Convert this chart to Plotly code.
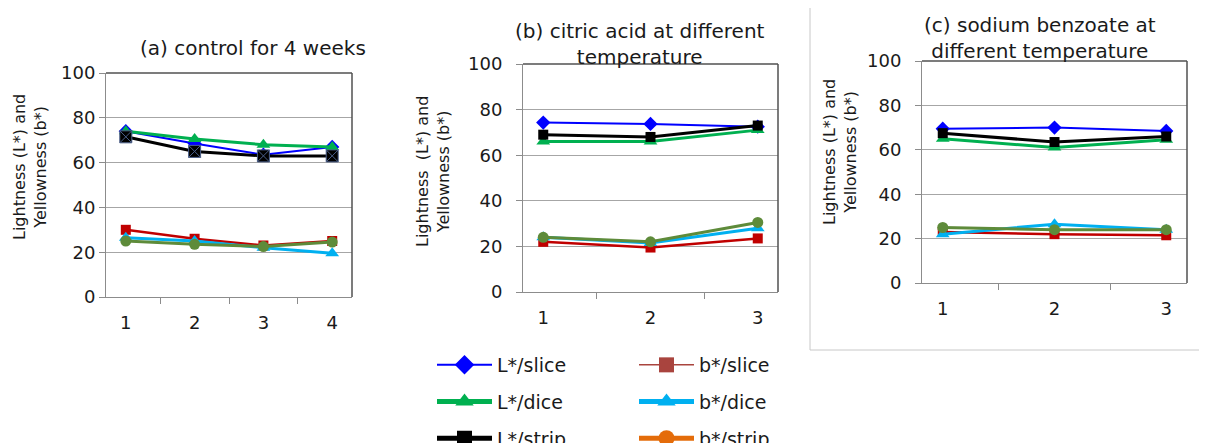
import plotly.graph_objects as go

# ---------------- data ----------------
weeks_a = ["1", "2", "3", "4"]
temps_bc = ["1", "2", "3"]

a_L_slice = [74, 68.5, 63.5, 67]
a_L_dice = [74, 70.5, 68, 67]
a_L_strip = [71.5, 65, 63, 63]
a_b_slice = [30, 26, 23, 25]
a_b_dice = [26.5, 25, 22, 19.5]
a_b_strip = [25, 23.5, 22.5, 24.5]

b_L_slice = [74.3, 73.7, 72.5]
b_L_dice = [66, 66, 71]
b_L_strip = [69, 68, 73]
b_b_slice = [22, 19.5, 23.5]
b_b_dice = [24, 21.5, 28]
b_b_strip = [24, 22, 30.5]

c_L_slice = [69.5, 70, 68.5]
c_L_dice = [65, 61, 64.5]
c_L_strip = [67.5, 63.5, 66]
c_b_slice = [23, 22, 21.5]
c_b_dice = [22, 26.5, 24]
c_b_strip = [25, 24, 24]

series_names = ["L*/slice", "b*/slice", "L*/dice", "b*/dice", "L*/strip", "b*/strip"]
titles = ["(a) control for 4 weeks",
          "(b) citric acid at different<br>temperature",
          "(c) sodium benzoate at<br>different temperature"]
ytitles = ["Lightness (L*) and<br>Yellowness (b*)",
           "Lightness  (L*) and<br>Yellowness (b*)",
           "Lightness (L*) and<br>Yellowness (b*)"]

# ---------------- styles ----------------
OFF = 8                     # default page body margin
W, H = 1207 - OFF, 443 - OFF
FONT = "DejaVu Sans"
TXT = "#1a1a1a"

style = {
    "L*/slice": dict(color="#0000FF", width=2, symbol="diamond", size=11),
    "L*/dice": dict(color="#00B050", width=3, symbol="triangle-up", size=12),
    "L*/strip": dict(color="#000000", width=3, symbol="square", size=10),
    "b*/slice": dict(color="#C00000", width=2.5, symbol="square", size=10),
    "b*/dice": dict(color="#00B0F0", width=3, symbol="triangle-up", size=12),
    "b*/strip": dict(color="#5E8B3A", width=3, symbol="circle", size=11),
}
legend_style = {
    "L*/slice": dict(color="#0000FF", width=2, symbol="diamond", size=15),
    "b*/slice": dict(color="#A9443E", width=1.5, symbol="square", size=15),
    "L*/dice": dict(color="#00B050", width=5, symbol="triangle-up", size=16),
    "b*/dice": dict(color="#00B0F0", width=5, symbol="triangle-up", size=16),
    "L*/strip": dict(color="#000000", width=5, symbol="square", size=15),
    "b*/strip": dict(color="#E46C0A", width=5, symbol="circle", size=16),
}

panels = [
    (weeks_a, {"L*/slice": a_L_slice, "L*/dice": a_L_dice, "L*/strip": a_L_strip,
               "b*/slice": a_b_slice, "b*/dice": a_b_dice, "b*/strip": a_b_strip}),
    (temps_bc, {"L*/slice": b_L_slice, "L*/dice": b_L_dice, "L*/strip": b_L_strip,
                "b*/slice": b_b_slice, "b*/dice": b_b_dice, "b*/strip": b_b_strip}),
    (temps_bc, {"L*/slice": c_L_slice, "L*/dice": c_L_dice, "L*/strip": c_L_strip,
                "b*/slice": c_b_slice, "b*/dice": c_b_dice, "b*/strip": c_b_strip}),
]

# plot-area pixel boxes in the page (left, right, top, bottom)
boxes = [(106, 352, 73, 297), (523, 778, 64, 292), (922, 1187, 61, 283)]
title_pos = [(253, 48), (640, 44), (1040, 38)]
ytitle_pos = [(30, 167), (433, 172), (840, 152)]
ylabel_standoff = [0, 10, 10]

def px(x):
    return (x - OFF) / W

def py(y):
    return 1 - (y - OFF) / H

fig = go.Figure()
draw_order = ["L*/slice", "L*/dice", "L*/strip", "b*/slice", "b*/dice", "b*/strip"]

for i, (cats, data) in enumerate(panels):
    ax = "" if i == 0 else str(i + 1)
    for name in draw_order:
        s = style[name]
        sym = s["symbol"]
        mline = dict(width=0)
        size = s["size"]
        if i == 0 and name == "L*/strip":
            sym = "square-x"
            size = 12
            mline = dict(width=1, color="#4a5f8a")
        fig.add_trace(go.Scatter(
            x=cats, y=data[name], mode="lines+markers", name=name,
            line=dict(color=s["color"], width=s["width"]),
            marker=dict(symbol=sym, size=size, color=s["color"], line=mline),
            xaxis="x" + ax, yaxis="y" + ax, showlegend=False, hoverinfo="x+y+name",
        ))

# legend entries (two columns)
for name in series_names:
    s = legend_style[name]
    col = "legend" if name.startswith("L") else "legend2"
    fig.add_trace(go.Scatter(
        x=[None], y=[None], mode="lines+markers", name=name,
        line=dict(color=s["color"], width=s["width"]),
        marker=dict(symbol=s["symbol"], size=s["size"], color=s["color"]),
        legendgroup=name, legend=col, showlegend=True,
    ))

layout = dict(
    width=W, height=H, margin=dict(l=0, r=0, t=0, b=0, autoexpand=False),
    paper_bgcolor="white", plot_bgcolor="white",
    font=dict(family=FONT, color=TXT, size=17),
    showlegend=True,
)

annotations = []
shapes = []
for i, (cats, data) in enumerate(panels):
    ax = "" if i == 0 else str(i + 1)
    l, r, t, b = boxes[i]
    layout["xaxis" + ax] = dict(
        domain=[px(l), px(r)], anchor="y" + ax, type="category",
        tickson="boundaries", ticks="outside", ticklen=6, tickcolor="#8c8c8c",
        showline=True, linecolor="#8c8c8c", linewidth=1, showgrid=False,
        tickfont=dict(size=18, family=FONT, color=TXT), zeroline=False,
        ticklabelstandoff=9, fixedrange=True,
    )
    layout["yaxis" + ax] = dict(
        domain=[py(b), py(t)], anchor="x" + ax, range=[0, 100], dtick=20,
        ticks="outside", ticklen=6, tickcolor="#8c8c8c",
        showline=True, linecolor="#8c8c8c", linewidth=1,
        showgrid=True, gridcolor="#a6a6a6", gridwidth=1, zeroline=False,
        tickfont=dict(size=18, family=FONT, color=TXT),
        ticklabelstandoff=ylabel_standoff[i], fixedrange=True,
    )
    # dark top / right frame
    shapes.append(dict(type="line", xref="x" + ax + " domain", yref="y" + ax + " domain",
                       x0=0, x1=1, y0=1, y1=1, line=dict(color="#505050", width=1.5)))
    shapes.append(dict(type="line", xref="x" + ax + " domain", yref="y" + ax + " domain",
                       x0=1, x1=1, y0=0, y1=1, line=dict(color="#505050", width=1.5)))
    tx, ty = title_pos[i]
    annotations.append(dict(text=titles[i], x=px(tx), y=py(ty), xref="paper", yref="paper",
                            showarrow=False, xanchor="center", yanchor="middle",
                            font=dict(size=20, family=FONT, color=TXT)))
    yx, yy = ytitle_pos[i]
    annotations.append(dict(text=ytitles[i], x=px(yx), y=py(yy), xref="paper", yref="paper",
                            showarrow=False, xanchor="center", yanchor="middle", textangle=-90,
                            font=dict(size=16, family=FONT, color=TXT)))

# frame around panel (c)
shapes.append(dict(type="rect", xref="paper", yref="paper",
                   x0=px(810), x1=1.01, y0=py(350), y1=1.01,
                   line=dict(color="#c8c8c8", width=1)))

layout["annotations"] = annotations
layout["shapes"] = shapes
layout["legend"] = dict(x=px(432), y=py(346), xanchor="left", yanchor="top",
                        orientation="v", tracegroupgap=9, itemwidth=55,
                        font=dict(size=19, family=FONT, color=TXT), bgcolor="rgba(0,0,0,0)")
layout["legend2"] = dict(x=px(634), y=py(346), xanchor="left", yanchor="top",
                         orientation="v", tracegroupgap=9, itemwidth=55,
                         font=dict(size=19, family=FONT, color=TXT), bgcolor="rgba(0,0,0,0)")

fig.update_layout(**layout)
fig.write_html("out.html")
